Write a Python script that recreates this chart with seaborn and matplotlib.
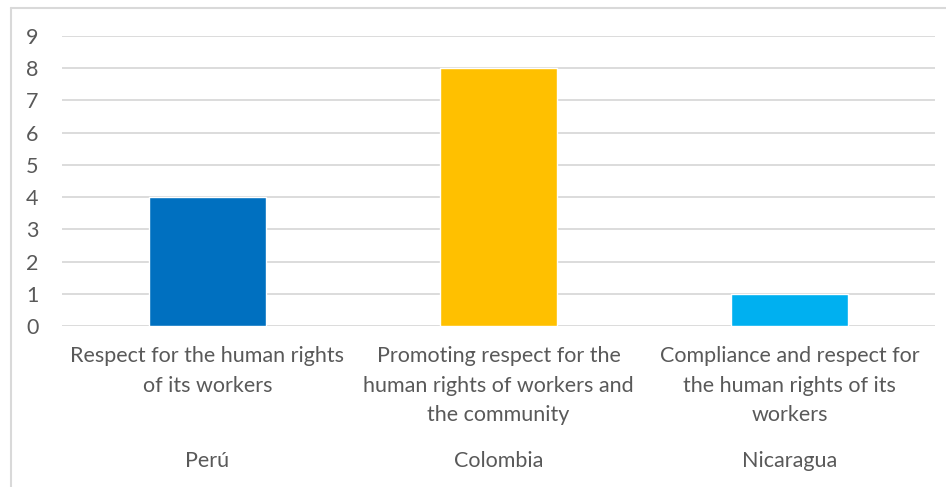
import matplotlib
matplotlib.use("Agg")
import matplotlib.pyplot as plt
import matplotlib.transforms as mtransforms
from matplotlib.lines import Line2D
import seaborn as sns
import pandas as pd

categories = [
    "Respect for the human rights\nof its workers",
    "Promoting respect for the\nhuman rights of workers and\nthe community",
    "Compliance and respect for\nthe human rights of its\nworkers",
]
countries = ["Perú", "Colombia", "Nicaragua"]
values = [4, 8, 1]
colors = ["#0070C0", "#FFC000", "#00B0F0"]
yticks = list(range(0, 10))

sns.set_style("white")
plt.rcParams["font.family"] = ["Lato", "DejaVu Sans"]

df = pd.DataFrame({"cat": categories, "val": values})

fig = plt.figure(figsize=(9.46, 4.87), dpi=100)
ax = fig.add_axes([62/946, 1-326/487, (935-62)/946, 290/487])

sns.barplot(data=df, x="cat", y="val", hue="cat", palette=colors,
            width=0.4, legend=False, ax=ax, saturation=1, zorder=3)

FS = 15.5
ax.set_ylim(0, 9)
ax.set_xlim(-0.5, 2.5)
ax.set_yticks(yticks)
ax.yaxis.grid(True, color="#D9D9D9", linewidth=1.3, zorder=0)
ax.set_axisbelow(True)
for s in ax.spines.values():
    s.set_visible(False)
ax.tick_params(axis="y", length=0, pad=17, labelsize=FS, labelcolor="#595959")
ax.tick_params(axis="x", length=0, pad=14.5, labelsize=FS, labelcolor="#595959")
for lbl in ax.get_xticklabels():
    lbl.set_linespacing(1.6)
ax.set_xlabel("")
ax.set_ylabel("")

trans = mtransforms.blended_transform_factory(ax.transData, ax.transAxes)
for i, c in enumerate(countries):
    ax.text(i, -0.465, c, transform=trans, ha="center", va="center",
            fontsize=FS, color="#595959")

# chart border (top and left visible)
fig.add_artist(Line2D([11/946, 11/946], [0, 1-8/487], transform=fig.transFigure,
                      color="#D9D9D9", linewidth=1.5))
fig.add_artist(Line2D([11/946, 1], [1-8/487, 1-8/487], transform=fig.transFigure,
                      color="#D9D9D9", linewidth=1.5))

fig.savefig("out.png", dpi=100)
